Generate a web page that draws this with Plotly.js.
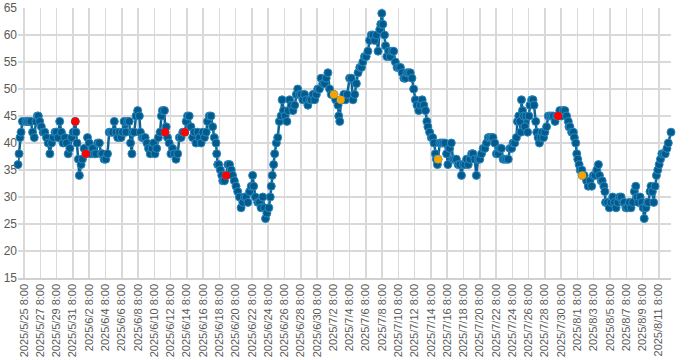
<!DOCTYPE html>
<html>
<head>
<meta charset="utf-8">
<script src="https://cdn.plot.ly/plotly-3.0.1.min.js"></script>
<style>html,body{margin:0;padding:0;background:#fff;}#chart{width:700px;height:360px;}</style>
</head>
<body>
<div id="chart"></div>
<script>
// Time base of the series (first x tick label)
const baseTime = "2025-05-25T08:00:00Z";

// Hours after baseTime for each reading
const hours = [
-18,-15,-12,-9,-5,5,10,15,20,25,30,35,39,42,46,51,56,61,66,71,
76,81,86,91,95,100,105,110,115,120,125,130,135,140,145,151,153,156,160,163,
168,172,177,182,187,192,197,202,207,212,217,222,227,231,236,241,246,251,256,261,
266,271,276,281,286,290,295,300,305,310,314,318,320,325,330,335,340,343,348,352,
357,362,367,372,377,382,386,391,396,401,405,408,414,416,419,423,428,433,438,443,
448,453,458,463,468,474,478,482,487,492,497,502,507,512,517,522,527,532,537,541,
546,551,556,561,566,568,571,574,579,583,586,591,596,601,606,611,615,620,625,630,
635,640,645,650,655,660,665,670,674,677,682,689,694,699,704,709,712,716,722,726,
729,732,736,739,744,748,753,758,761,765,770,775,779,783,788,793,798,803,807,812,
817,822,827,832,837,842,847,852,857,862,866,871,876,881,886,891,896,901,906,914,
919,926,928,931,934,937,943,948,953,960,965,970,975,980,985,990,995,999,1004,1009,
1014,1019,1024,1029,1034,1039,1044,1049,1052,1055,1058,1063,1066,1070,1075,1080,1085,1090,1095,1100,
1105,1110,1115,1120,1125,1129,1134,1139,1144,1149,1154,1159,1164,1169,1174,1179,1184,1188,1191,1196,
1201,1205,1209,1213,1216,1219,1221,1226,1231,1236,1241,1246,1250,1255,1260,1265,1270,1275,1280,1285,
1290,1295,1300,1305,1310,1315,1320,1324,1329,1334,1339,1344,1349,1354,1359,1364,1369,1374,1379,1383,
1388,1393,1398,1403,1408,1413,1418,1423,1428,1433,1438,1442,1447,1452,1455,1459,1462,1465,1467,1470,
1473,1477,1480,1485,1489,1492,1497,1501,1504,1509,1512,1516,1520,1524,1528,1532,1536,1541,1546,1551,
1556,1561,1566,1571,1575,1580,1585,1590,1595,1600,1605,1607,1610,1615,1620,1623,1627,1630,1633,1637,
1640,1645,1646,1652,1659,1664,1669,1674,1679,1684,1689,1694,1697,1702,1705,1710,1713,1715,1721,1726,
1731,1736,1741,1746,1751,1756,1761,1766,1770,1775,1780,1785,1790,1795,1800,1804,1808,1812,1817,1822,
1826,1829,1834,1837,1841,1846,1849,1853,1857,1861,1865,1869,1873,1877,1881,1886,1891,1896,1900,1908
];

// Reading at each time
const values = [
36,38,41,42,44,44,44,44,44,42,41,44,45,45,44,43,42,42,41,40,
38,40,41,42,42,41,44,42,40,41,40,38,39,41,42,44,42,40,37,34,
36,37,39,38,41,40,38,39,38,38,40,40,38,38,37,37,38,42,42,42,
44,42,41,42,41,42,44,42,44,44,40,38,42,42,45,46,45,42,41,41,
41,40,39,38,39,40,38,39,41,42,45,46,46,42,43,41,40,38,39,38,
37,38,41,41,42,42,44,45,45,43,41,42,40,42,41,40,42,41,42,44,
45,45,43,41,40,38,36,36,35,34,33,33,34,36,36,35,34,33,32,31,
30,28,29,30,30,29,31,32,34,32,30,29,29,28,30,28,26,27,28,30,
32,34,36,38,40,41,44,45,48,46,45,44,46,48,47,46,47,49,50,49,
49,48,49,48,47,48,48,49,48,49,50,50,52,51,51,52,53,50,49,49,
48,47,45,44,48,48,49,48,49,52,52,48,49,51,53,54,54,55,56,56,
57,59,60,60,59,60,57,61,62,64,62,60,58,56,57,56,57,57,55,54,
54,54,53,52,52,53,53,53,52,50,48,47,46,47,48,47,46,44,43,42,
41,41,40,38,37,36,37,40,40,40,40,38,36,39,40,37,37,37,36,36,
34,36,36,37,36,37,38,38,37,34,37,37,38,39,39,40,41,41,41,41,
40,38,38,39,39,37,37,37,37,39,39,40,40,41,44,45,44,42,48,46,
45,43,45,42,45,47,48,48,47,44,42,41,40,41,42,41,42,43,45,45,
45,45,44,45,45,46,45,46,46,45,44,43,43,42,42,41,40,38,37,36,
35,35,34,34,33,32,33,32,34,34,35,36,34,33,33,32,31,29,29,28,
29,30,29,28,29,30,30,29,29,28,28,29,28,29,31,32,30,29,30,29,
28,26,28,29,29,31,32,31,29,32,34,35,36,37,38,38,38,39,40,42
];

// Highlighted readings
const redHours = [151, 182, 416, 474, 596, 1575];
const redValues = [44, 38, 42, 42, 34, 45];
const orangeHours = [914, 934, 1221, 1646];
const orangeValues = [49, 48, 37, 34];

// Axis settings
const yTicks = [15, 20, 25, 30, 35, 40, 45, 50, 55, 60, 65];
const xTickStart = "2025-05-25 08:00";
const xTickStepDays = 2;

function toDate(h) {
  const t = new Date(Date.parse(baseTime) + h * 3600000);
  return t.toISOString().slice(0, 16).replace('T', ' ');
}
const xMain = hours.map(toDate);

const traces = [
  {
    x: xMain, y: values, type: 'scatter', mode: 'lines+markers',
    line: {color: '#0b6394', width: 2.5},
    marker: {color: '#035b8c', size: 8, line: {color: '#2a88bf', width: 1}},
    cliponaxis: false, hoverinfo: 'x+y'
  },
  {
    x: redHours.map(toDate), y: redValues, type: 'scatter', mode: 'markers',
    marker: {color: '#ff0000', size: 8},
    cliponaxis: false
  },
  {
    x: orangeHours.map(toDate), y: orangeValues, type: 'scatter', mode: 'markers',
    marker: {color: '#f5a300', size: 8},
    cliponaxis: false
  }
];

const layout = {
  width: 700, height: 360,
  margin: {l: 18, r: 29, t: 8, b: 82},
  paper_bgcolor: '#ffffff', plot_bgcolor: '#ffffff',
  showlegend: false,
  font: {family: 'Liberation Sans, Arial, sans-serif', size: 11, color: '#595959'},
  xaxis: {
    type: 'date',
    range: [toDate(hours[0]), toDate(hours[hours.length - 1])],
    tick0: xTickStart,
    dtick: xTickStepDays * 86400000,
    tickformat: '%Y/%-m/%-d %-H:%M',
    tickangle: -90,
    showgrid: true, gridcolor: '#d9d9d9', gridwidth: 1.5,
    showline: true, linecolor: '#d0d0d0', linewidth: 1.5,
    zeroline: false,
    ticks: '', tickfont: {size: 11, color: '#595959'},
    automargin: false
  },
  yaxis: {
    range: [15, 65],
    tickvals: yTicks,
    showgrid: true, gridcolor: '#d9d9d9', gridwidth: 1.5,
    zeroline: false, showline: false,
    ticks: '', tickfont: {size: 12, color: '#595959'},
    automargin: false
  }
};

Plotly.newPlot('chart', traces, layout, {staticPlot: true, displayModeBar: false});
</script>
</body>
</html>
